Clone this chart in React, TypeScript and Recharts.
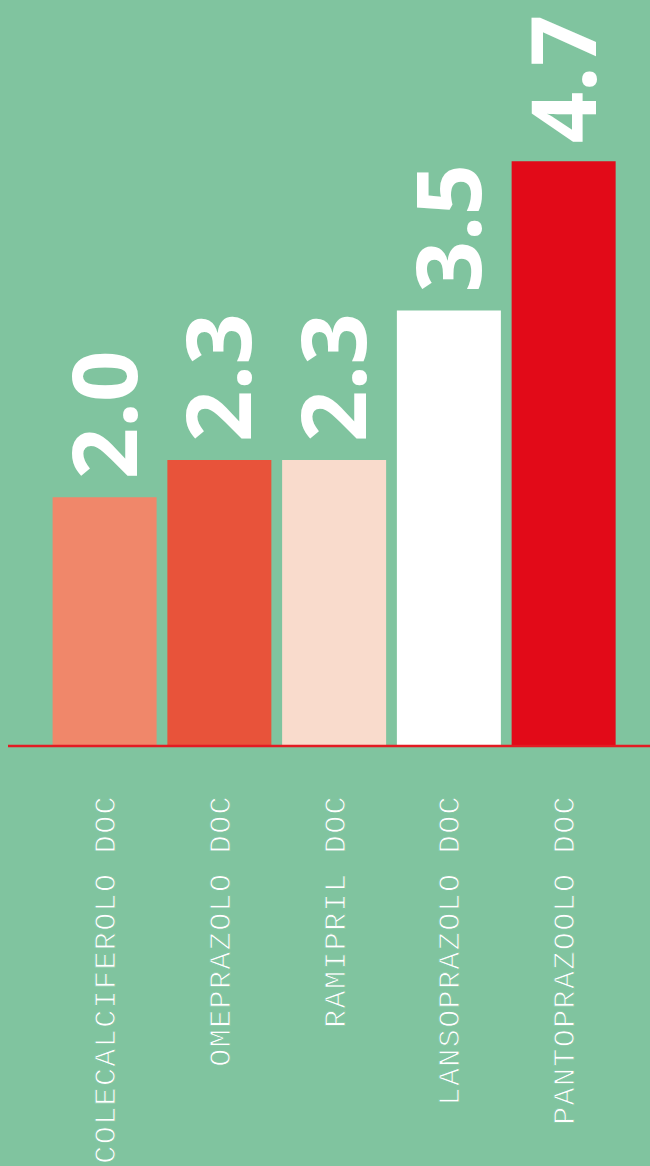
import { BarChart, Bar, XAxis, YAxis, Cell, LabelList } from "recharts";

const drugs = [
  "COLECALCIFEROLO DOC",
  "OMEPRAZOLO DOC",
  "RAMIPRIL DOC",
  "LANSOPRAZOLO DOC",
  "PANTOPRAZOOLO DOC",
];
const values = [2.0, 2.3, 2.3, 3.5, 4.7];
const barColors = ["#F0876A", "#E8533A", "#F9DBCC", "#FFFFFF", "#E20A18"];

const data = drugs.map((name, i) => ({ name, value: values[i] }));

const BG = "#80C49F";

function ValueLabel(props: any) {
  const { x, y, width, value } = props;
  const cx = x + width / 2 + 32;
  const cy = y - 18;
  return (
    <text
      x={cx}
      y={cy}
      transform={`rotate(-90, ${cx}, ${cy})`}
      textAnchor="start"
      fill="#FFFFFF"
      fontFamily="'Open Sans', Lato, sans-serif"
      fontWeight={700}
      fontSize={90}
    >
      {Number(value).toFixed(1)}
    </text>
  );
}

function DrugTick(props: any) {
  const { x, y, payload } = props;
  const tx = x + 10;
  const ty = y + 49;
  // thin the glyphs a little by outlining them in the background colour
  return (
    <text
      x={tx}
      y={ty}
      transform={`rotate(-90, ${tx}, ${ty})`}
      textAnchor="end"
      fill="#FFFFFF"
      stroke={BG}
      strokeWidth={0.9}
      fontFamily="'Liberation Mono', monospace"
      fontSize={30}
      letterSpacing={1.4}
    >
      {payload.value}
    </text>
  );
}

export default function App() {
  return (
    <div
      style={{
        position: "absolute",
        left: 0,
        top: 0,
        width: 650,
        height: 1166,
        background: BG,
        overflow: "hidden",
      }}
    >
      <div style={{ position: "absolute", left: 8, top: 8 }}>
        <BarChart
          width={642}
          height={1158}
          data={data}
          margin={{ top: 116, right: 0, bottom: 0, left: 0 }}
        >
          <XAxis
            dataKey="name"
            height={420}
            interval={0}
            tickLine={false}
            tickSize={0}
            tickMargin={0}
            axisLine={{ stroke: "#E31B23", strokeWidth: 2.5 }}
            padding={{ left: 39.6, right: 28.6 }}
            tick={<DrugTick />}
          />
          <YAxis hide domain={[0, 5]} />
          <Bar dataKey="value" barSize={104} isAnimationActive={false}>
            {data.map((d, i) => (
              <Cell key={d.name} fill={barColors[i]} />
            ))}
            <LabelList dataKey="value" content={<ValueLabel />} />
          </Bar>
        </BarChart>
      </div>
    </div>
  );
}
